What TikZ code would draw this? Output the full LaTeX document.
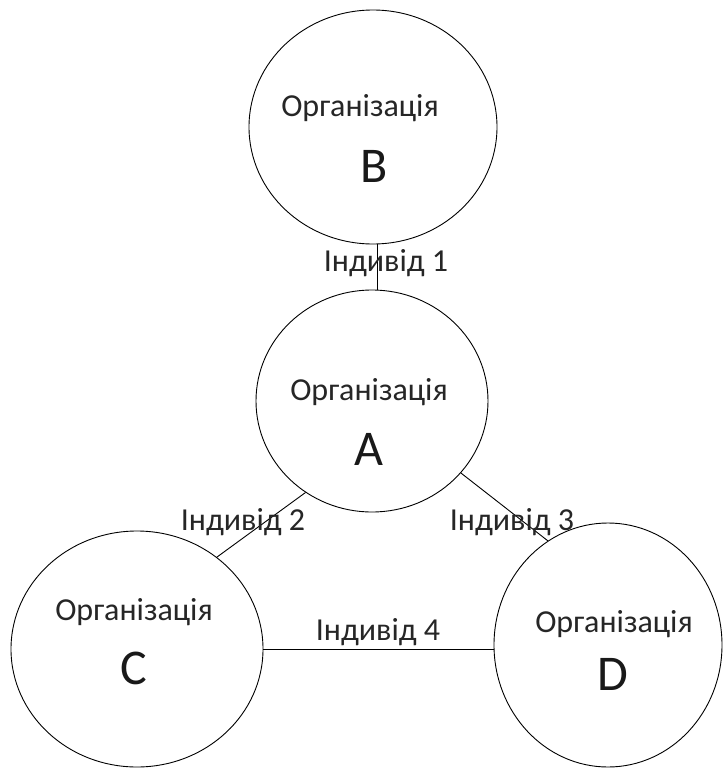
\documentclass[tikz,border=0pt]{standalone}
\usepackage{fontspec}
\setmainfont{Carlito}
\usetikzlibrary{shapes.geometric}
\begin{document}
\begin{tikzpicture}[x=1pt,y=-1pt,
  org/.style={ellipse, draw, line width=0.9pt, inner sep=0pt},
  orgname/.style={anchor=base, inner sep=0pt, font=\fontsize{32}{36}\selectfont, text=black!85},
  letter/.style={anchor=base, inner sep=0pt, font=\fontsize{50}{56}\selectfont, text=black!90},
  lbl/.style={anchor=base, inner sep=0pt, font=\fontsize{32}{36}\selectfont, text=black!85},
  conn/.style={line width=0.9pt}]
\useasboundingbox[fill=white] (0,0) rectangle (723,769);
% circles
\node[org, minimum width=248, minimum height=234] (B) at (373,127) {};
\node[org, minimum width=232, minimum height=222] (A) at (372,401) {};
\node[org, minimum width=252, minimum height=236] (C) at (137,649) {};
\node[org, minimum width=228, minimum height=244] (D) at (608,645) {};
% texts inside
\node[orgname] (Bt) at (360,116) {Організація};
\node[letter] (Bl) at (374,182) {B};
\node[orgname] (At) at (369,400) {Організація};
\node[letter] (Al) at (369,465) {A};
\node[orgname] (Ct) at (134,620) {Організація};
\node[letter] (Cl) at (134,684) {C};
\node[orgname] (Dt) at (614,632) {Організація};
\node[letter] (Dl) at (613,690) {D};
% connectors
\draw[conn] ([xshift=4pt]B.south) -- ([xshift=4pt]B.south |- A.north);
\draw[conn] (A.234.9) -- (C.49.8);
\draw[conn] (A.-39.1) -- (D.120.1);
\draw[conn] (C.east) -- (C.east -| D.west);
% labels
\node[lbl] (L1) at (386,271) {Індивід 1};
\node[lbl] (L2) at (243,530) {Індивід 2};
\node[lbl] (L3) at (512,530) {Індивід 3};
\node[lbl] (L4) at (378,640) {Індивід 4};
\end{tikzpicture}
\end{document}
